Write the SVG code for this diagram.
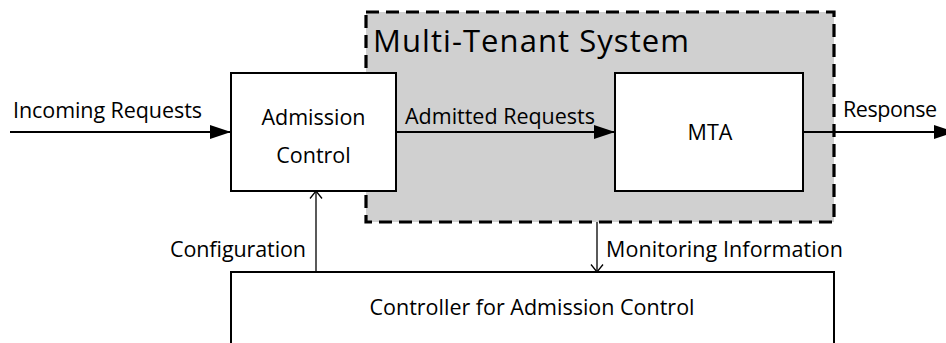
<svg xmlns="http://www.w3.org/2000/svg" width="946" height="343" viewBox="0 0 946 343">
  <defs>
    <style>
      .box { fill: #ffffff; stroke: #000000; stroke-width: 2; }
      .sys { fill: #d0d0d0; stroke: #000000; stroke-width: 3.2; stroke-dasharray: 13 7; }
      .flow { fill: none; stroke: #000000; stroke-width: 2; }
      .thin { fill: none; stroke: #000000; stroke-width: 1.3; }
      .lbl { font-family: "Open Sans", "Noto Sans", "Liberation Sans", sans-serif; font-size: 21.5px; fill: #000000; }
      .title { font-family: "Open Sans", "Noto Sans", "Liberation Sans", sans-serif; font-size: 31px; fill: #000000; }
    </style>
    <marker id="solid" markerWidth="21" markerHeight="14" refX="21" refY="7" orient="auto" markerUnits="userSpaceOnUse">
      <path d="M0,0 L21,7 L0,14 Z" fill="#000000"/>
    </marker>
    <marker id="open" markerWidth="14" markerHeight="14" refX="8" refY="7" orient="auto" markerUnits="userSpaceOnUse">
      <path d="M0.5,1 L8,7 L0.5,13" fill="none" stroke="#000000" stroke-width="1.3"/>
    </marker>
  </defs>

  <!-- multi-tenant system boundary -->
  <g id="system">
    <rect class="sys" x="366" y="12" width="468" height="210"/>
    <text class="title" x="373" y="52" textLength="316">Multi-Tenant System</text>
  </g>

  <g id="admission-control">
    <rect class="box" x="231" y="73" width="165" height="118"/>
    <text class="lbl" x="313.5" y="125" text-anchor="middle">Admission</text>
    <text class="lbl" x="313.5" y="163" text-anchor="middle">Control</text>
  </g>

  <g id="mta">
    <rect class="box" x="615" y="73" width="188" height="118"/>
    <text class="lbl" x="710" y="140" text-anchor="middle">MTA</text>
  </g>

  <g id="controller">
    <rect class="box" x="231" y="272" width="603" height="90"/>
    <text class="lbl" x="532" y="315" text-anchor="middle" textLength="325">Controller for Admission Control</text>
  </g>

  <g id="connectors">
    <line class="flow" x1="10" y1="132" x2="231" y2="132" marker-end="url(#solid)"/>
    <text class="lbl" x="13" y="118" textLength="189">Incoming Requests</text>

    <line class="flow" x1="396" y1="132" x2="615" y2="132" marker-end="url(#solid)"/>
    <text class="lbl" x="405" y="124" textLength="190">Admitted Requests</text>

    <line class="flow" x1="803" y1="132" x2="955" y2="132" marker-end="url(#solid)"/>
    <text class="lbl" x="843" y="117" textLength="94">Response</text>

    <line class="thin" x1="316" y1="272" x2="316" y2="191" marker-end="url(#open)"/>
    <text class="lbl" x="306" y="257" text-anchor="end" textLength="136">Configuration</text>

    <line class="thin" x1="597" y1="222" x2="597" y2="272" marker-end="url(#open)"/>
    <text class="lbl" x="606" y="257" textLength="237">Monitoring Information</text>
  </g>
</svg>
